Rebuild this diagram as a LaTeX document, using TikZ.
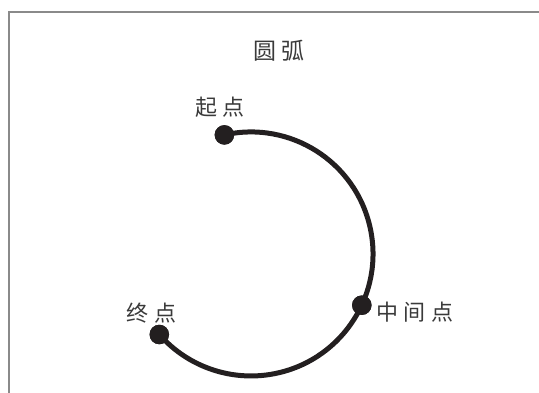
\documentclass[tikz,border=0pt]{standalone}
\usepackage{fontspec}
\newfontfamily\cjk{Noto Sans CJK SC}
\definecolor{ink}{HTML}{231F20}
\definecolor{txt}{HTML}{3A3A3A}
\definecolor{frame}{HTML}{8A8A8A}
\tikzset{
  dotnode/.style={circle, fill=ink, inner sep=0pt, minimum size=19.5pt},
  lbl/.style={font=\cjk\fontsize{22}{22}\selectfont, text=txt, inner sep=0pt, anchor=center},
  arcline/.style={draw=ink, line width=5pt},
}
\newcommand{\gp}{\hspace{5.5pt}}
\begin{document}
\begin{tikzpicture}[x=1pt,y=1pt]
\useasboundingbox (0,0) rectangle (539,-392);
\draw[frame, line width=1.6pt] (9,-700) |- (800,-11.7);
\node[lbl, font=\cjk\fontsize{23}{23}\selectfont] (title) at (279,-51) {圆\gp 弧};
\coordinate (C) at (251,-254);
\node[dotnode] (s) at (224.4,-134.9) {};
\node[dotnode] (m) at (361.8,-305.2) {};
\node[dotnode] (e) at (159.3,-334.5) {};
\draw[arcline] (s.center) arc[start angle=102.6, end angle=-138.7, radius=122pt];
\node[dotnode] at (s) {};
\node[dotnode] at (m) {};
\node[dotnode] at (e) {};
\node[lbl] (ls) at (220,-107) {起\gp 点};
\node[lbl] (lm) at (414.5,-311.7) {中\gp 间\gp 点};
\node[lbl] (le) at (151.5,-313) {终\gp 点};
\end{tikzpicture}
\end{document}
